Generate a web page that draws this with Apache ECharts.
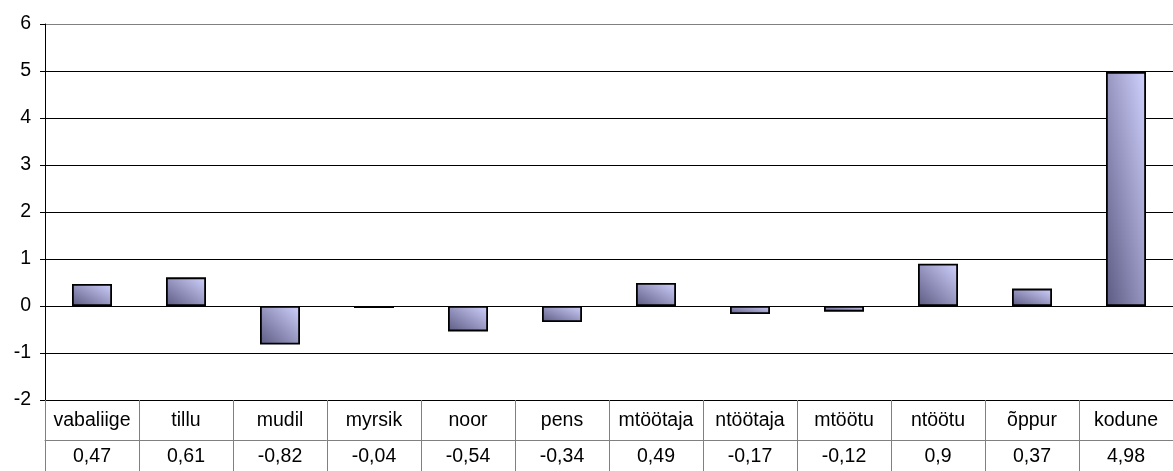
<!DOCTYPE html>
<html><head><meta charset="utf-8">
<script src="https://cdn.jsdelivr.net/npm/echarts@6/dist/echarts.min.js"></script>
<style>html,body{margin:0;padding:0;background:#fff}#c{width:1173px;height:471px}</style>
</head><body><div id="c"></div>
<script>
const categories = ['vabaliige','tillu','mudil','myrsik','noor','pens','mtöötaja','ntöötaja','mtöötu','ntöötu','õppur','kodune'];
const values = [0.47, 0.61, -0.82, -0.04, -0.54, -0.34, 0.49, -0.17, -0.12, 0.9, 0.37, 4.98];
const valueLabels = ['0,47','0,61','-0,82','-0,04','-0,54','-0,34','0,49','-0,17','-0,12','0,9','0,37','4,98'];
const yTicks = [-2,-1,0,1,2,3,4,5,6];

const chart = echarts.init(document.getElementById('c'), null, {renderer:'canvas'});
const font = 'Liberation Sans, Arial, sans-serif';
const FS = 19.5;
function barFill(params){
  // diagonal gradient stretched to the bar's box (isolines parallel to its other diagonal)
  const h = Math.max(Math.abs(params.value) * 47, 0.5);
  const r = h / 40;
  const r2 = r * r;
  return new echarts.graphic.LinearGradient(0, 1, 2 * r2 / (r2 + 1), 1 - 2 / (r2 + 1), [
    {offset:0, color:'#5a5a82'}, {offset:1, color:'#d2d2ff'}]);
}
chart.setOption({
  animation:false,
  grid:{left:45, top:24, width:1140, height:376, containLabel:false},
  xAxis:[{
    type:'category', data:categories, position:'bottom',
    axisLine:{onZero:false, lineStyle:{color:'#000', width:1}},
    axisTick:{show:true, interval:0, length:71, lineStyle:{color:'#808080'}},
    axisLabel:{interval:0, margin:11, color:'#000', fontFamily:font, fontSize:FS},
    splitLine:{show:false}
  },{
    type:'category', data:valueLabels, position:'bottom', offset:40,
    axisLine:{onZero:false, lineStyle:{color:'#808080', width:1}},
    axisTick:{show:false},
    axisLabel:{interval:0, margin:7, color:'#000', fontFamily:font, fontSize:FS},
    splitLine:{show:false}
  }],
  yAxis:{
    type:'value', min:yTicks[0], max:yTicks[yTicks.length-1], interval:1,
    axisLine:{show:true, lineStyle:{color:'#000'}},
    axisTick:{show:true, length:5, lineStyle:{color:'#000'}},
    axisLabel:{color:'#000', fontFamily:font, fontSize:FS, margin:14},
    splitLine:{show:true, lineStyle:{color:['#000','#000','#000','#000','#000','#000','#000','#000','#808080'], width:1}}
  },
  series:[{
    type:'bar', data:values, xAxisIndex:0, barWidth:40,
    itemStyle:{ color:barFill, borderColor:'#000', borderWidth:1.8 }
  }]
});
</script></body></html>
